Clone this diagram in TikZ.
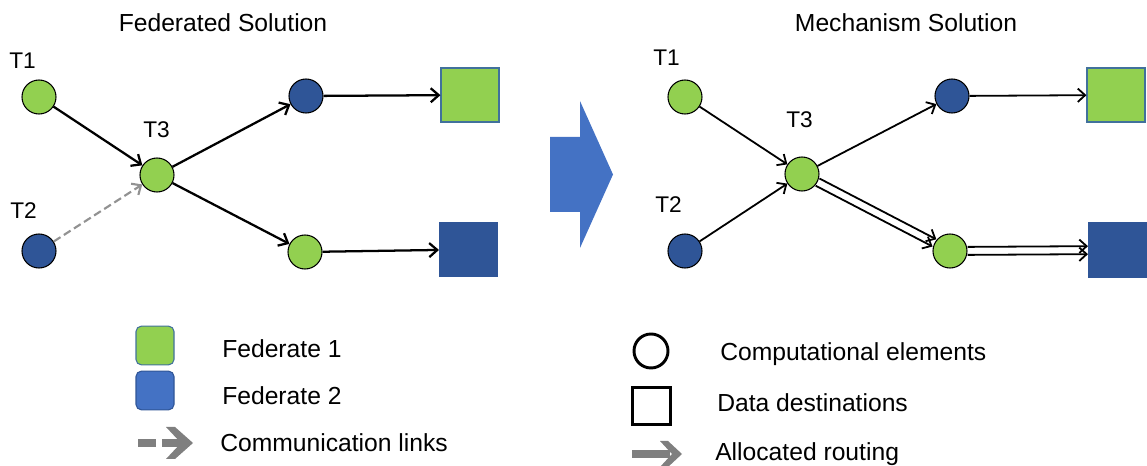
\documentclass[tikz,border=0pt]{standalone}
\usepackage{fontspec}
\setmainfont{Liberation Sans}
\usetikzlibrary{arrows.meta,calc}
\definecolor{fgreen}{HTML}{92D050}
\definecolor{fblue}{HTML}{2F5597}
\definecolor{lblue}{HTML}{4472C4}
\definecolor{sqedge}{HTML}{41719C}
\definecolor{lgray}{HTML}{929292}
\definecolor{dgray}{HTML}{7F7F7F}
\begin{document}
\begin{tikzpicture}[x=0.75pt,y=-0.75pt,
  comp/.style={circle, draw=black, line width=0.8pt, minimum size=25.5pt, inner sep=0pt},
  gc/.style={comp, fill=fgreen},
  bc/.style={comp, fill=fblue},
  dest/.style={rectangle, minimum width=43.5pt, minimum height=40.5pt, inner sep=0pt, line width=0.8pt},
  gsq/.style={dest, fill=fgreen, draw=sqedge},
  bsq/.style={dest, fill=fblue, draw=fblue},
  arr/.style={-{Straight Barb[length=6pt,width=10.5pt]}, line width=1.7pt},
  arrR/.style={-{Straight Barb[length=5.5pt,width=10pt]}, line width=1.35pt},
  commarr/.style={-{Straight Barb[length=5.5pt,width=10pt]}, line width=1.6pt, lgray, dash pattern=on 6pt off 3pt},
  tlabel/.style={anchor=base west, inner sep=0pt, font=\fontsize{17}{20}\selectfont},
  title/.style={anchor=base, inner sep=0pt, font=\fontsize{18.5}{22}\selectfont},
  legtext/.style={anchor=base west, inner sep=0pt, font=\fontsize{18.5}{22}\selectfont},
  legsq/.style={rectangle, rounded corners=4pt, minimum width=28.5pt, minimum height=29pt, inner sep=0pt, line width=0.8pt}
]
\useasboundingbox (0,0) rectangle (1147,466);

% titles
\node[title] (t1) at (223,32) {Federated Solution};
\node[title] (t2) at (906,32) {Mechanism Solution};

% ---------- left panel ----------
\node[gc] (L1) at (39,97) {};
\node[bc] (L2) at (39,251) {};
\node[gc] (L3) at (157,175) {};
\node[bc] (LB) at (306,96) {};
\node[gc] (LG) at (305,252) {};
\node[gsq] (LGS) at (470,95) {};
\node[bsq] (LBS) at (468.5,249.5) {};
\node[tlabel] (lt1) at (9,69) {T1};
\node[tlabel] (lt2) at (10,219) {T2};
\node[tlabel] (lt3) at (143,138) {T3};

\draw[arr] (L1) -- (L3);
\draw[commarr] (L2) -- (L3);
\draw[arr] (L3) -- (LB);
\draw[arr] (L3) -- (LG);
\draw[arr] (LB) -- (LGS);
\draw[arr] (LG) -- (LBS);

% ---------- big arrow ----------
\fill[lblue] (550,137) -- (580,137) -- (580,101) -- (613,174.5) -- (580,248) -- (580,212) -- (550,212) -- cycle;

% ---------- right panel ----------
\node[gc] (R1) at (685,97) {};
\node[bc] (R2) at (685,251) {};
\node[gc] (R3) at (802,174) {};
\node[bc] (RB) at (952,96) {};
\node[gc] (RG) at (950,251) {};
\node[gsq] (RGS) at (1116,95) {};
\node[bsq] (RBS) at (1117.5,250) {};
\node[tlabel] (rt1) at (653,66) {T1};
\node[tlabel] (rt2) at (655,213) {T2};
\node[tlabel] (rt3) at (786,128) {T3};

\draw[arrR] (R1) -- (R3);
\draw[arrR] (R2) -- (R3);
\draw[arrR] (R3) -- (RB);
\draw[arrR] (RB) -- (RGS);
\draw[arrR, transform canvas={shift={(-1.9,3.6)}}] (R3) -- (RG);
\draw[arrR, transform canvas={shift={(1.9,-3.6)}}] (R3) -- (RG);
\draw[arrR, transform canvas={shift={(0,4)}}] (RG) -- (RBS);
\draw[arrR, transform canvas={shift={(0,-4)}}] (RG) -- (RBS);

% ---------- legend left ----------
\node[legsq, fill=fgreen, draw=sqedge] (lg1) at (155,345.5) {};
\node[legsq, fill=lblue, draw=fblue] (lg2) at (155,390.5) {};
\draw[dgray, line width=5.5pt] (138,443) -- (156,443);
\draw[dgray, line width=5.5pt] (162,443) -- (186,443);
\fill[dgray] (166,427) -- (175,427) -- (193,443) -- (175,459) -- (166,459) -- (181,443) -- cycle;
\node[legtext] (f1) at (222,358) {Federate 1};
\node[legtext] (f2) at (222,405) {Federate 2};
\node[legtext] (cl) at (220,452) {Communication links};

% ---------- legend right ----------
\node[circle, draw=black, line width=2.2pt, minimum size=25.5pt, inner sep=0pt] (lc) at (651,351) {};
\node[rectangle, draw=black, line width=2.2pt, minimum width=28.5pt, minimum height=27.5pt, inner sep=0pt] (ls) at (651.5,406) {};
\draw[dgray, line width=5.5pt] (632,454) -- (670,454);
\fill[dgray] (660,441) -- (668,441) -- (682,454) -- (668,467) -- (660,467) -- (672,454) -- cycle;
\node[legtext] (ce) at (720,361) {Computational elements};
\node[legtext] (dd) at (717,412) {Data destinations};
\node[legtext] (ar) at (715,461) {Allocated routing};
\end{tikzpicture}
\end{document}
